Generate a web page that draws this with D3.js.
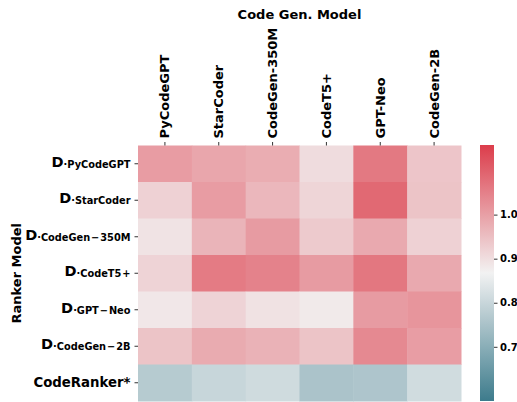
<!DOCTYPE html>
<html>
<head>
<meta charset="utf-8">
<script src="https://cdn.jsdelivr.net/npm/d3@7"></script>
<style>
  body { margin: 0; background: #fff; }
  text { font-family: "DejaVu Sans", sans-serif; font-weight: bold; fill: #000; }
</style>
</head>
<body>
<div id="chart"></div>
<script>
// code generation models (columns)
const genModels = ["PyCodeGPT", "StarCoder", "CodeGen-350M", "CodeT5+", "GPT-Neo", "CodeGen-2B"];
// ranker models (rows); "D" rows get subscript names
const rankerSubs = ["PyCodeGPT", "StarCoder", "CodeGen\u200a\u2212\u200a350M", "CodeT5\u200a+", "GPT\u200a\u2212\u200aNeo", "CodeGen\u200a\u2212\u200a2B"];
const rankerPlain = "CodeRanker*";
const rankers = rankerSubs.map(d => "D." + d).concat([rankerPlain]);

// one array per ranker row
const rowPyCodeGPT = [1.005, 0.990, 0.979, 0.903, 1.062, 0.939];
const rowStarCoder = [0.920, 1.005, 0.962, 0.914, 1.088, 0.942];
const rowCodeGen350M = [0.891, 0.967, 1.007, 0.931, 0.984, 0.920];
const rowCodeT5 = [0.917, 1.058, 1.047, 1.007, 1.065, 0.984];
const rowGPTNeo = [0.885, 0.917, 0.893, 0.881, 1.007, 1.017];
const rowCodeGen2B = [0.942, 0.982, 0.971, 0.942, 1.036, 1.004];
const rowCodeRanker = [0.772, 0.799, 0.811, 0.753, 0.758, 0.813];
const rows = [rowPyCodeGPT, rowStarCoder, rowCodeGen350M, rowCodeT5, rowGPTNeo, rowCodeGen2B, rowCodeRanker];

const cbarTicks = [0.7, 0.8, 0.9, 1.0];
const vmin = 0.577, vmax = 1.158;

const W = 517, H = 402;
const margin = { top: 145.5, left: 138, right: 56, bottom: 1 };
const width = W - margin.left - margin.right,
  height = H - margin.top - margin.bottom;

const svg = d3.select("#chart").append("svg")
  .attr("width", W).attr("height", H);

const g = svg.append("g")
  .attr("transform", "translate(" + margin.left + "," + margin.top + ")");

const x = d3.scaleBand().domain(genModels).range([0, width]);
const y = d3.scaleBand().domain(rankers).range([0, height]);

// seaborn style diverging palette (220 -> 10), light centre
const color = d3.scaleLinear()
  .domain([vmin, (vmin + vmax) / 2, vmax])
  .range(["#3d7b8c", "#f2f2f2", "#dc3d4b"])
  .interpolate(d3.interpolateRgb);

const cells = [];
rows.forEach((r, i) => r.forEach((v, j) => cells.push({ row: rankers[i], col: genModels[j], value: v })));

g.selectAll("rect.cell")
  .data(cells)
  .enter()
  .append("rect")
  .attr("class", "cell")
  .attr("x", d => x(d.col))
  .attr("y", d => y(d.row))
  .attr("width", x.bandwidth() + 0.5)
  .attr("height", y.bandwidth() + 0.5)
  .attr("fill", d => color(d.value));

// top axis, labels rotated
const xAxis = g.append("g").call(d3.axisTop(x).tickSize(3.5).tickPadding(3.5));
xAxis.select(".domain").remove();
xAxis.selectAll("line").attr("stroke", "#333");
xAxis.selectAll("text")
  .attr("transform", "rotate(-90)")
  .attr("x", 7).attr("y", 0).attr("dy", "0.35em")
  .style("text-anchor", "start")
  .style("font-size", "13px");

// left axis with "D" + subscript labels
const yAxis = g.append("g").call(d3.axisLeft(y).tickSize(3.5).tickPadding(4));
yAxis.select(".domain").remove();
yAxis.selectAll("line").attr("stroke", "#333");
yAxis.selectAll("text").each(function (d, i) {
  const t = d3.select(this).text(null);
  if (i < rankerSubs.length) {
    t.attr("dy", "0.3em");
    t.append("tspan").style("font-size", "14.5px").text("D");
    t.append("tspan").style("font-size", "9.8px").attr("dy", "1").text("\u00b7" + rankerSubs[i]);
  } else {
    t.attr("dy", "0.35em").style("font-size", "13.3px").text(rankerPlain);
  }
});

// axis titles
svg.append("text")
  .attr("x", margin.left + width / 2).attr("y", 19)
  .attr("text-anchor", "middle")
  .style("font-size", "13px")
  .text("Code Gen. Model");

svg.append("text")
  .attr("transform", "translate(21," + (margin.top + height / 2) + ")rotate(-90)")
  .attr("text-anchor", "middle")
  .style("font-size", "13px")
  .text("Ranker Model");

// colorbar
const cb = { x: 480, w: 14, top: 145, bottom: 401 };
const cy = d3.scaleLinear().domain([vmin, vmax]).range([cb.bottom, cb.top]);
const defs = svg.append("defs");
const grad = defs.append("linearGradient").attr("id", "cbar")
  .attr("x1", 0).attr("y1", 1).attr("x2", 0).attr("y2", 0);
d3.range(0, 1.0001, 0.05).forEach(t => {
  grad.append("stop").attr("offset", t).attr("stop-color", color(vmin + t * (vmax - vmin)));
});
svg.append("rect")
  .attr("x", cb.x).attr("y", cb.top)
  .attr("width", cb.w).attr("height", cb.bottom - cb.top)
  .attr("fill", "url(#cbar)");

const cAxis = svg.append("g")
  .attr("transform", "translate(" + (cb.x + cb.w) + ",0)")
  .call(d3.axisRight(cy).tickValues(cbarTicks).tickFormat(d3.format(".1f")).tickSize(3.5).tickPadding(2.5));
cAxis.select(".domain").remove();
cAxis.selectAll("line").attr("stroke", "#333");
cAxis.selectAll("text").style("font-size", "10px");
</script>
</body>
</html>
